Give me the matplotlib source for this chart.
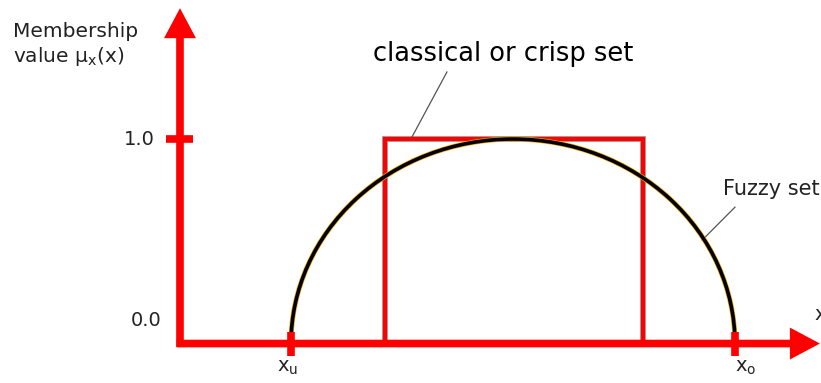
import matplotlib
matplotlib.use("Agg")
import matplotlib.pyplot as plt
import matplotlib.patheffects as pe
from matplotlib.patches import Arc, FancyArrowPatch

# datos del esquema
membership_levels = [0.0, 1.0]
level_labels = ['0.0', '1.0']
fuzzy_support = [2.0, 10.0]          # x_u, x_o
support_labels = [r'$\mathregular{x_u}$', r'$\mathregular{x_o}$']
crisp_bounds = [3.7, 8.35]
fuzzy_peak = 1.0

RED = '#ff0000'
AXIS_LW = 5.5

fig = plt.figure(figsize=(8.21, 3.83), dpi=100)
ax = fig.add_axes([0, 0, 1, 1])
ax.set_xlim(-3.243, 11.55)
ax.set_ylim(-0.193, 1.68)
ax.axis('off')

# ejes con flecha
for pa, pb in [((0, -0.017), (0, 1.64)), ((-0.06, 0), (11.53, 0))]:
    arr = FancyArrowPatch(pa, pb, arrowstyle='simple,head_length=21.6,head_width=23,tail_width=5.5',
                          mutation_scale=1, color=RED, lw=0, shrinkA=0, shrinkB=0, zorder=3)
    ax.add_patch(arr)

# conjunto clasico (rectangulo)
lo, hi = crisp_bounds
ax.plot([lo, lo, hi, hi], [0, 1, 1, 0], color='#a0a0a0', lw=4.2, zorder=2,
        solid_joinstyle='miter')
ax.plot([lo, lo, hi, hi], [0, 1, 1, 0], color=RED, lw=3.0, zorder=2.5,
        solid_joinstyle='miter')

# conjunto difuso (semielipse)
xu, xo = fuzzy_support
arc = Arc(((xu + xo) / 2, 0), xo - xu, 2 * fuzzy_peak, theta1=0, theta2=180,
          color='black', lw=2.6, zorder=4,
          path_effects=[pe.Stroke(linewidth=3.6, foreground='#f0a800'), pe.Normal()])
ax.add_patch(arc)

# marcas
ax.plot([-0.25, 0.23], [1.0, 1.0], color=RED, lw=AXIS_LW, solid_capstyle='butt', zorder=3)
for xv in fuzzy_support:
    ax.plot([xv, xv], [-0.06, 0.058], color=RED, lw=AXIS_LW, solid_capstyle='butt', zorder=5)

# textos
txt = dict(family='DejaVu Sans', color='#222222')
ax.text(-0.45, membership_levels[1], level_labels[1], ha='right', va='center', fontsize=14, **txt)
ax.text(-0.34, 0.115, level_labels[0], ha='right', va='center', fontsize=14, **txt)
ax.text(1.93, -0.14, support_labels[0], ha='center', va='baseline', fontsize=14, **txt)
ax.text(10.2, -0.14, support_labels[1], ha='center', va='baseline', fontsize=14, **txt)
ax.text(11.44, 0.115, 'x', ha='left', va='baseline', fontsize=14, **txt)

ax.text(-3.01, 1.497, 'Membership', ha='left', va='baseline', fontsize=14.5, **txt)
ax.text(-3.01, 1.378, r'value $\mathregular{μ_x}$(x)', ha='left', va='baseline', fontsize=14.5, **txt)

ax.text(5.83, 1.381, 'classical or crisp set', ha='center', va='baseline', fontsize=18.5,
        family='DejaVu Sans', color='black')
ax.plot([4.81, 4.18], [1.328, 1.01], color='#555555', lw=0.9, zorder=2)

ax.text(9.78, 0.726, 'Fuzzy set', ha='left', va='baseline', fontsize=15, **txt)
ax.plot([10.0, 9.41], [0.667, 0.506], color='#555555', lw=0.9, zorder=2)

plt.savefig('out.png', dpi=100)
